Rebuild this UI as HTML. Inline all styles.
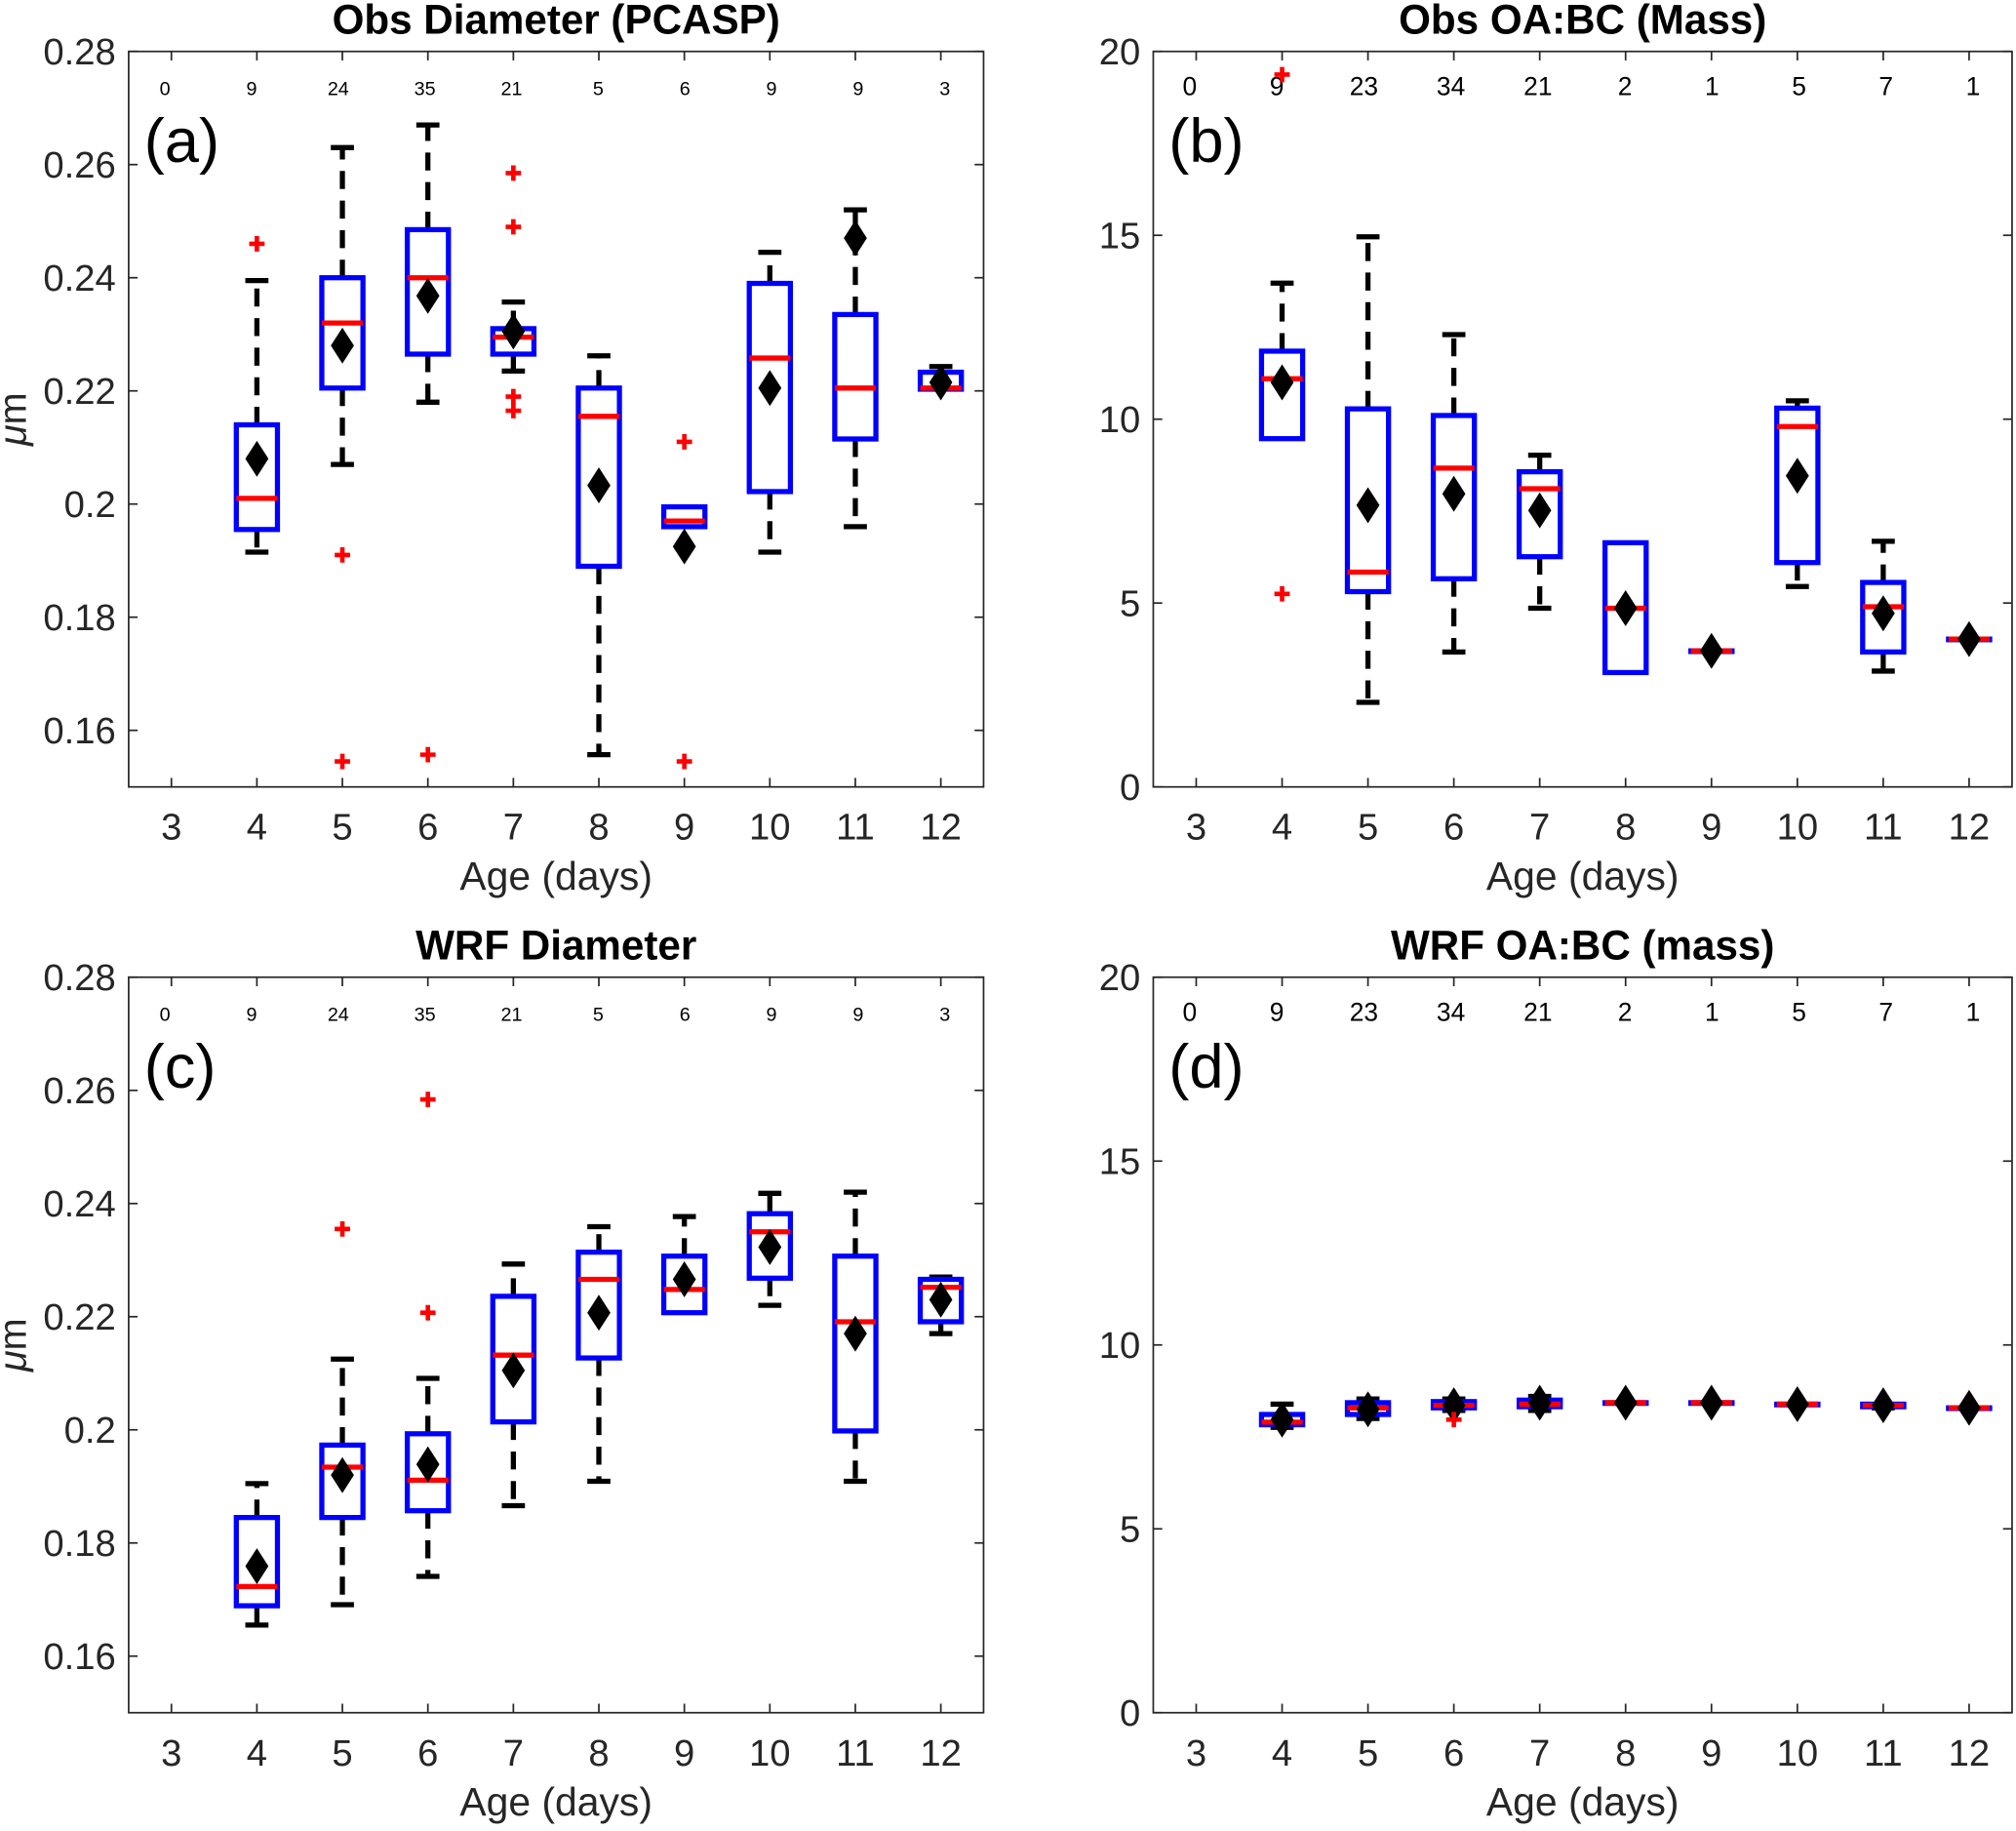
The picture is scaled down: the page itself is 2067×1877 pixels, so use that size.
<!DOCTYPE html>
<html><head><meta charset="utf-8"><style>
html,body{margin:0;padding:0;background:#fff}
svg{display:block;font-family:"Liberation Sans",Arial,sans-serif}
</style></head><body>
<svg id="fig" width="2067" height="1877" viewBox="0 0 1568 1424" xmlns="http://www.w3.org/2000/svg"></svg>
<script>
const ages=[3,4,5,6,7,8,9,10,11,12];
const countsDiam=[0,9,24,35,21,5,6,9,9,3];
const countsOA=[0,9,23,34,21,2,1,5,7,1];
// [age, wlo, q1, med, q3, whi, mean]
const aBoxes=[[4,.1915,.1955,.201,.214,.2395,.208],[5,.207,.2205,.232,.240,.263,.228],[6,.218,.2265,.240,.2485,.267,.2368],[7,.2235,.2265,.2295,.231,.2357,.2305],[8,.1557,.189,.2155,.2205,.2262,.2033],[9,.196,.196,.197,.1995,.1995,.1925],[10,.1915,.2022,.2258,.239,.2445,.2205],[11,.196,.2115,.2205,.2335,.252,.247],[12,.2203,.2203,.2205,.2233,.2243,.2215]];
const aOut=[[4,.246],[5,.191],[5,.1545],[6,.1557],[7,.2585],[7,.249],[7,.219],[7,.2165],[9,.211],[9,.1545]];
const bBoxes=[[4,9.47,9.47,11.1,11.85,13.7,11.0],[5,2.3,5.31,5.84,10.28,14.96,7.66],[6,3.67,5.66,8.67,10.1,12.3,7.97],[7,4.86,6.26,8.11,8.57,9.02,7.52],[8,3.11,3.11,4.86,6.64,6.64,4.86],[9,3.7,3.7,3.7,3.7,3.7,3.7],[10,5.45,6.1,9.8,10.3,10.5,8.46],[11,3.15,3.67,4.9,5.56,6.68,4.72],[12,4.02,4.02,4.02,4.02,4.02,4.02]];
const bOut=[[4,5.25],[4,19.37]];
const cBoxes=[[4,.1655,.1689,.1723,.1845,.1905,.1759],[5,.1691,.1845,.1934,.1973,.2125,.192],[6,.1741,.1857,.1911,.1993,.2091,.1939],[7,.1866,.2014,.2132,.2236,.2293,.2105],[8,.1909,.2127,.2266,.2314,.2359,.2207],[9,.2207,.2207,.2248,.2307,.2377,.2266],[10,.222,.2268,.235,.2382,.2418,.2323],[11,.1909,.1998,.2191,.2307,.242,.217],[12,.217,.2191,.2252,.2266,.227,.223]];
const cOut=[[5,.2355],[6,.2584],[6,.2207]];
const dBoxes=[[4,7.76,7.83,7.9,8.11,8.39,7.97],[5,8.0,8.11,8.29,8.43,8.53,8.25],[6,8.22,8.29,8.36,8.46,8.53,8.36],[7,8.22,8.32,8.39,8.5,8.6,8.43],[8,8.43,8.43,8.43,8.43,8.43,8.43],[9,8.43,8.43,8.43,8.43,8.43,8.43],[10,8.39,8.39,8.39,8.39,8.39,8.39],[11,8.29,8.32,8.36,8.39,8.39,8.36],[12,8.29,8.29,8.29,8.29,8.29,8.29]];
const dOut=[[6,7.97]];
const diamTicks=[0.16,0.18,0.2,0.22,0.24,0.26,0.28];
const diamTickLabels=["0.16","0.18","0.2","0.22","0.24","0.26","0.28"];
const oaTicks=[0,5,10,15,20];
const oaTickLabels=["0","5","10","15","20"];

const NS="http://www.w3.org/2000/svg";
const svg=document.getElementById('fig');
function mk(tag,attrs,parent){const e=document.createElementNS(NS,tag);for(const k in attrs)e.setAttribute(k,attrs[k]);(parent||svg).appendChild(e);return e;}

function panel(p){
  const g=mk('g',{});
  
  
  const X=v=>p.x0+(v-2.5)/10*(p.x1-p.x0);
  const Y=v=>p.y1-(v-p.ymin)/(p.ymax-p.ymin)*(p.y1-p.y0);
  const fr=mk('rect',{x:p.x0,y:p.y0,width:p.x1-p.x0,height:p.y1-p.y0,fill:'none',stroke:'#262626','stroke-width':1.3},g);
  
  
  ages.forEach((a,i)=>{
    const x=X(a);
    mk('line',{x1:x,x2:x,y1:p.y1,y2:p.y1-7,stroke:'#262626','stroke-width':1.3},g);
    mk('line',{x1:x,x2:x,y1:p.y0,y2:p.y0+7,stroke:'#262626','stroke-width':1.3},g);
    const t=mk('text',{x:x,y:p.y1+41,'font-size':29,'text-anchor':'middle',fill:'#262626'},g);
    t.textContent=a;
    
    
    const c=mk('text',{x:x-5+i*0.9,y:p.y0+34,'font-size':p.cfs,'text-anchor':'middle',fill:'#000'},g);
    c.textContent=p.counts[i];
    
    
  });
  p.ticks.forEach((v,i)=>{
    const y=Y(v);
    mk('line',{x1:p.x0,x2:p.x0+7,y1:y,y2:y,stroke:'#262626','stroke-width':1.3},g);
    mk('line',{x1:p.x1,x2:p.x1-7,y1:y,y2:y,stroke:'#262626','stroke-width':1.3},g);
    const t=mk('text',{x:p.x0-10,y:y+10,'font-size':29,'text-anchor':'end',fill:'#262626'},g);
    t.textContent=p.tickLabels[i];
    
    
  });
  const ti=mk('text',{x:(p.x0+p.x1)/2,y:p.y0-14,'font-size':32,'font-weight':'bold','text-anchor':'middle',fill:'#000'},g);
  ti.textContent=p.title;
  
  
  const xl=mk('text',{x:(p.x0+p.x1)/2,y:p.y1+80,'font-size':31,'text-anchor':'middle',fill:'#262626'},g);
  xl.textContent='Age (days)';
  
  
  if(p.ylab){
    const yl=mk('text',{x:0,y:0,'font-size':30,'text-anchor':'middle',fill:'#262626',transform:`translate(${p.x0-80},${(p.y0+p.y1)/2}) rotate(-90)`},g);
    yl.innerHTML='<tspan font-style="italic">μ</tspan>m';
    
    
  }
  const lt=mk('text',{x:p.x0+12,y:p.y0+86,'font-size':48,fill:'#000'},g);
  lt.textContent='('+p.id+')';
  
  
  const hw=16, cap=9;
  p.boxes.forEach(b=>{
    const [a,wlo,q1,med,q3,whi,mean]=b;
    const x=X(a);
    const bg=mk('g',{},g);
    
    
    if(whi>q3){
      mk('line',{x1:x,x2:x,y1:Y(q3),y2:Y(whi),stroke:'#000','stroke-width':4,'stroke-dasharray':'14,9'},bg);
      mk('line',{x1:x-cap,x2:x+cap,y1:Y(whi),y2:Y(whi),stroke:'#000','stroke-width':4},bg);
    }
    if(wlo<q1){
      mk('line',{x1:x,x2:x,y1:Y(q1),y2:Y(wlo),stroke:'#000','stroke-width':4,'stroke-dasharray':'14,9'},bg);
      mk('line',{x1:x-cap,x2:x+cap,y1:Y(wlo),y2:Y(wlo),stroke:'#000','stroke-width':4},bg);
    }
    mk('rect',{x:x-hw,y:Y(q3),width:2*hw,height:Math.max(0.5,Y(q1)-Y(q3)),fill:'none',stroke:'#0000ff','stroke-width':4},bg);
    mk('line',{x1:x-hw,x2:x+hw,y1:Y(med),y2:Y(med),stroke:'#ff0000','stroke-width':4},bg);
    const m=Y(mean);
    const d=mk('path',{d:`M${x},${m-14}L${x+9},${m}L${x},${m+14}L${x-9},${m}Z`,fill:'#000'},bg);
    
    
  });
  p.out.forEach(o=>{
    const x=X(o[0]),y=Y(o[1]);
    const pl=mk('path',{d:`M${x-6},${y}H${x+6}M${x},${y-6}V${y+6}`,stroke:'#ff0000','stroke-width':3.5},g);
    
    
  });
}
panel({id:'a',title:'Obs Diameter (PCASP)',x0:100,x1:765,y0:40,y1:612,ymin:0.15,ymax:0.28,ticks:diamTicks,tickLabels:diamTickLabels,counts:countsDiam,boxes:aBoxes,out:aOut,ylab:true,cfs:15});
panel({id:'b',title:'Obs OA:BC (Mass)',x0:897,x1:1565,y0:40,y1:612,ymin:0,ymax:20,ticks:oaTicks,tickLabels:oaTickLabels,counts:countsOA,boxes:bBoxes,out:bOut,ylab:false,cfs:20});
panel({id:'c',title:'WRF Diameter',x0:100,x1:765,y0:760,y1:1332,ymin:0.15,ymax:0.28,ticks:diamTicks,tickLabels:diamTickLabels,counts:countsDiam,boxes:cBoxes,out:cOut,ylab:true,cfs:15});
panel({id:'d',title:'WRF OA:BC (mass)',x0:897,x1:1565,y0:760,y1:1332,ymin:0,ymax:20,ticks:oaTicks,tickLabels:oaTickLabels,counts:countsOA,boxes:dBoxes,out:dOut,ylab:false,cfs:20});
</script>
</body></html>
